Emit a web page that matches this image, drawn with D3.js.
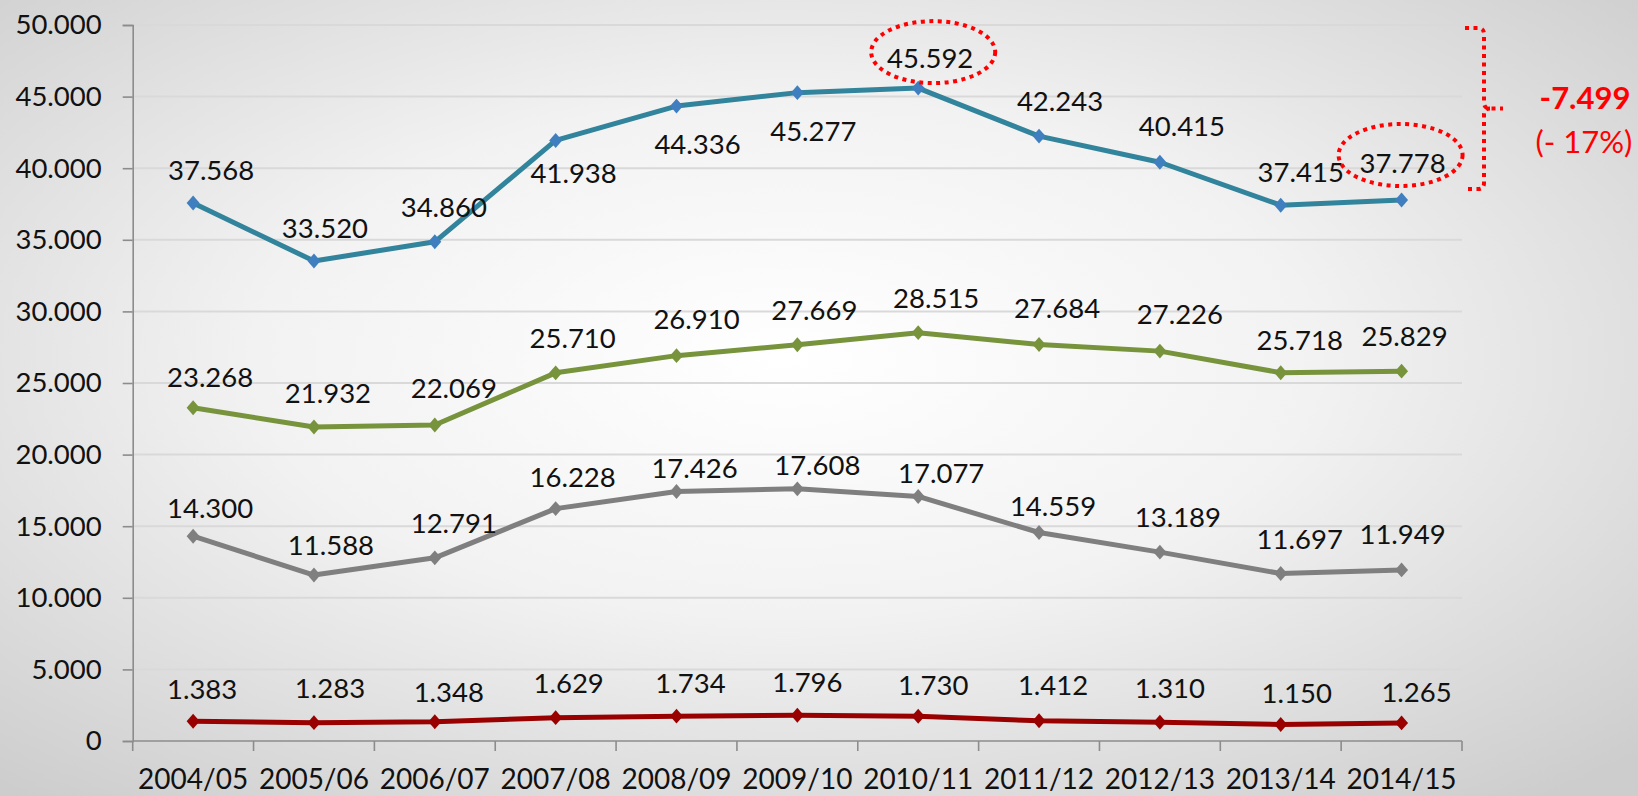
<!DOCTYPE html>
<html>
<head>
<meta charset="utf-8">
<script src="https://cdn.jsdelivr.net/npm/d3@7"></script>
<style>
  html, body { margin: 0; padding: 0; overflow: hidden; }
  svg { display: block; }
  text { font-family: Lato, "Noto Sans", sans-serif; }
</style>
</head>
<body>
<svg id="chart" width="1638" height="796"></svg>
<script>
// ---------- data ----------
const categories = ["2004/05","2005/06","2006/07","2007/08","2008/09","2009/10","2010/11","2011/12","2012/13","2013/14","2014/15"];
const seriesTotal = [37568, 33520, 34860, 41938, 44336, 45277, 45592, 42243, 40415, 37415, 37778];
const seriesGreen = [23268, 21932, 22069, 25710, 26910, 27669, 28515, 27684, 27226, 25718, 25829];
const seriesGray  = [14300, 11588, 12791, 16228, 17426, 17608, 17077, 14559, 13189, 11697, 11949];
const seriesRed   = [1383, 1283, 1348, 1629, 1734, 1796, 1730, 1412, 1310, 1150, 1265];
const yTicks = [0, 5000, 10000, 15000, 20000, 25000, 30000, 35000, 40000, 45000, 50000];
const diffLabel = "-7.499";
const pctLabel = "(- 17%)";

// ---------- layout (label offsets relative to each point) ----------
const labelDx = {
  total: [18,11,9,18,21,16,12,21,22,20,1],
  green: [17,14,19,17,20,17,18,18,20,19,3],
  gray:  [17,17,19,17,18,20,23,14,18,19,1],
  red:   [9,16,14,13,14,10,15,14,10,16,15]
};
const labelDy = {
  total: [-23,-23,-25,43,48,48,-20,-25,-26,-23,-27],
  green: [-21,-24,-27,-25,-27,-25,-25,-27,-27,-23,-25],
  gray:  [-18,-20,-25,-22,-13,-14,-13,-17,-25,-24,-26],
  red:   [-22,-25,-20,-25,-23,-23,-21,-26,-24,-22,-21]
};

const series = [
  {key:"total", values: seriesTotal, line:"#31849B", marker:"#3F7FBF"},
  {key:"green", values: seriesGreen, line:"#77933C", marker:"#77933C"},
  {key:"gray",  values: seriesGray,  line:"#7F7F7F", marker:"#7F7F7F"},
  {key:"red",   values: seriesRed,   line:"#990000", marker:"#990000"}
];

const svg = d3.select("#chart");
const W = 1638, H = 796;

// background
const defs = svg.append("defs");
const rg = defs.append("radialGradient").attr("id","bg")
  .attr("cx","48%").attr("cy","45%").attr("r","72%");
rg.append("stop").attr("offset","0%").attr("stop-color","#ffffff");
rg.append("stop").attr("offset","45%").attr("stop-color","#f2f2f2");
rg.append("stop").attr("offset","100%").attr("stop-color","#cdcdcd");
svg.append("rect").attr("width",W).attr("height",H).attr("fill","url(#bg)");

const locale = d3.formatLocale({decimal:",", thousands:".", grouping:[3], currency:["","€"]});
const fmt = locale.format(",d");

const x = d3.scaleBand().domain(categories).range([132.7, 1462]).padding(0);
const y = d3.scaleLinear().domain([0, 50000]).range([741, 25]);
const cx = c => x(c) + x.bandwidth()/2;

// gridlines
svg.append("g").selectAll("line").data(yTicks.filter(t => t > 0)).join("line")
  .attr("x1", x.range()[0]).attr("x2", x.range()[1])
  .attr("y1", d => y(d)).attr("y2", d => y(d))
  .attr("stroke","#d9d9d9").attr("stroke-width",2);

// y axis
const yAxis = svg.append("g").attr("transform",`translate(${x.range()[0]},0)`)
  .call(d3.axisLeft(y).tickValues(yTicks).tickFormat(fmt).tickSize(10).tickPadding(21));
yAxis.select(".domain").attr("stroke","#8c8c8c").attr("stroke-width",1.6);
yAxis.selectAll(".tick line").attr("stroke","#8c8c8c").attr("stroke-width",1.6);
yAxis.selectAll(".tick text").attr("font-size",27.5).attr("fill","#111")
  .attr("font-family","Lato, 'Noto Sans', sans-serif");

// x axis
const xTickPos = d3.range(categories.length + 1).map(i => x.range()[0] + i * x.step());
const xAxisG = svg.append("g");
xAxisG.append("line").attr("x1", x.range()[0]).attr("x2", x.range()[1])
  .attr("y1", y(0)).attr("y2", y(0)).attr("stroke","#8c8c8c").attr("stroke-width",1.6);
xAxisG.selectAll("line.tk").data(xTickPos).join("line").attr("class","tk")
  .attr("x1", d => d).attr("x2", d => d).attr("y1", y(0)).attr("y2", y(0) + 10)
  .attr("stroke","#8c8c8c").attr("stroke-width",1.6);
xAxisG.selectAll("text").data(categories).join("text")
  .attr("x", d => cx(d)).attr("y", y(0) + 48)
  .attr("text-anchor","middle").attr("font-size",28).attr("fill","#111")
  .text(d => d);

// lines, markers, labels
const lineGen = d3.line().x((d,i) => cx(categories[i])).y(d => y(d));
const diamond = d3.symbol().type(d3.symbolSquare).size(84);

series.forEach(s => {
  const g = svg.append("g");
  g.append("path").datum(s.values).attr("d", lineGen)
    .attr("fill","none").attr("stroke", s.line).attr("stroke-width",5)
    .attr("stroke-linejoin","round");
  g.selectAll("path.m").data(s.values).join("path").attr("class","m")
    .attr("d", diamond)
    .attr("transform",(d,i) => `translate(${cx(categories[i])},${y(d)}) scale(1,1.15) rotate(45)`)
    .attr("fill", s.marker);
  g.selectAll("text").data(s.values).join("text")
    .attr("x",(d,i) => cx(categories[i]) + labelDx[s.key][i])
    .attr("y",(d,i) => y(d) + labelDy[s.key][i])
    .attr("text-anchor","middle").attr("font-size",27.5).attr("fill","#111")
    .text(d => fmt(d));
});

// annotations
const maxIdx = seriesTotal.indexOf(d3.max(seriesTotal));
const lastIdx = seriesTotal.length - 1;
const ann = svg.append("g").attr("fill","none").attr("stroke","#ff0000")
  .attr("stroke-width",4).attr("stroke-dasharray","4,4.5");
ann.append("ellipse")
  .attr("cx", cx(categories[maxIdx]) + 15).attr("cy", y(seriesTotal[maxIdx]) - 36)
  .attr("rx", 62).attr("ry", 31);
ann.append("ellipse")
  .attr("cx", cx(categories[lastIdx]) - 1).attr("cy", y(seriesTotal[lastIdx]) - 45)
  .attr("rx", 62).attr("ry", 31);

const bx = x.range()[1] + 22;
const bTop = y(50000) + 3;
const bBot = y(seriesTotal[lastIdx]) - 11;
const bMid = (bTop + bBot) / 2;
const bp = d3.path();
bp.moveTo(bx - 19, bTop); bp.lineTo(bx - 6, bTop);
bp.quadraticCurveTo(bx, bTop, bx, bTop + 6);
bp.lineTo(bx, bMid - 6);
bp.quadraticCurveTo(bx, bMid, bx + 6, bMid);
bp.lineTo(bx + 19, bMid);
bp.moveTo(bx + 6, bMid);
bp.quadraticCurveTo(bx, bMid, bx, bMid + 6);
bp.lineTo(bx, bBot - 6);
bp.quadraticCurveTo(bx, bBot, bx - 6, bBot);
bp.lineTo(bx - 16, bBot);
ann.append("path").attr("d", bp.toString());

svg.append("text").attr("x", 1585).attr("y", bMid)
  .attr("text-anchor","middle").attr("font-size",31).attr("font-weight","bold")
  .attr("fill","#ff0000").text(diffLabel);
svg.append("text").attr("x", 1584).attr("y", bMid + 44)
  .attr("text-anchor","middle").attr("font-size",31)
  .attr("fill","#ff0000").text(pctLabel);
</script>
</body>
</html>
